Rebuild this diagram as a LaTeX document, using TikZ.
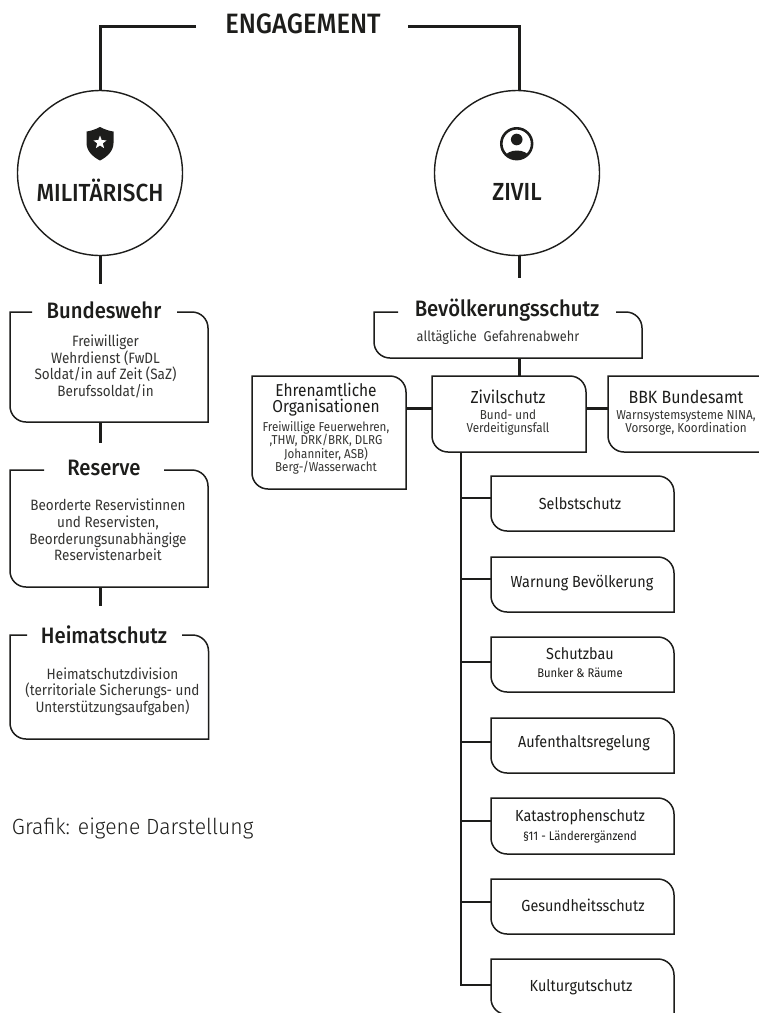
\documentclass[tikz,border=0pt]{standalone}
\usepackage{fontspec}
\usetikzlibrary{shapes.geometric}
\setmainfont{Fira Sans}[FakeStretch=0.9]
\newfontfamily\hdfont{Fira Sans Medium}[FakeStretch=0.91]
\newfontfamily\ltfont{Fira Sans Light}[FakeStretch=0.96]
\definecolor{ink}{HTML}{1D1D1B}
\newcommand{\fs}[1]{\fontsize{#1}{#1}\selectfont}
\tikzset{
  x=1pt,y=-1pt,
  every node/.style={text=ink,inner sep=0pt,outer sep=0pt,align=center},
  outline/.style={draw=ink,line width=1.5pt,line join=miter},
  link/.style={draw=ink,line width=3pt},
  thin link/.style={draw=ink,line width=1.4pt},
  disc/.style={circle,draw=ink,line width=1.4pt,minimum size=165pt},
  title big/.style={font=\hdfont\fs{28}},
  title mid/.style={font=\hdfont\fs{24.7}},
  title head/.style={font=\hdfont\fs{22.3}},
  body/.style={font=\fs{15},text=ink!90,execute at begin node=\setlength{\baselineskip}{16.6pt}},
  small/.style={font=\fs{13},text=ink!90,execute at begin node=\setlength{\baselineskip}{13pt}},
  small four/.style={font=\fs{12.9},text=ink!90,execute at begin node=\setlength{\baselineskip}{13.4pt}},
  org/.style={font=\fs{17.2},execute at begin node=\setlength{\baselineskip}{16pt}},
  entry/.style={font=\fs{16}},
  entry sub/.style={font=\fs{12.5}},
}
% name, x1, y1, x2, y2 : closed box, rounded top-right and bottom-left
\newcommand{\Bx}[5]{%
  \node[rectangle,minimum width={(#4-#2)*1pt},minimum height={(#5-#3)*1pt}] (#1) at ({(#2+#4)/2},{(#3+#5)/2}) {};
  \draw[outline] (#2,#3) -- ({#4-16},#3) arc[start angle=90,end angle=0,radius=16pt]
    -- (#4,#5) -- ({#2+16},#5) arc[start angle=270,end angle=180,radius=16pt] -- cycle;
}
% same, with a gap in the top edge between x=#6 and x=#7
\newcommand{\GBx}[7]{%
  \node[rectangle,minimum width={(#4-#2)*1pt},minimum height={(#5-#3)*1pt}] (#1) at ({(#2+#4)/2},{(#3+#5)/2}) {};
  \draw[outline] (#7,#3) -- ({#4-16},#3) arc[start angle=90,end angle=0,radius=16pt]
    -- (#4,#5) -- ({#2+16},#5) arc[start angle=270,end angle=180,radius=16pt] -- (#2,#3) -- (#6,#3);
}
\begin{document}
\begin{tikzpicture}
\useasboundingbox[clip] (0,0) rectangle (759,1013);
\fill[white] (0,0) rectangle (759,1013);

% top
\node[title big] (eng) at (303,24) {ENGAGEMENT};
\coordinate (engL) at (196,26);
\coordinate (engR) at (408,26);
\node[disc] (mil) at (100,173) {};
\node[disc] (ziv) at (517,173) {};
\coordinate (milT) at (100,90.5);
\coordinate (zivT) at (519,90.5);
\draw[link,line join=miter] (engL) -- (engL -| milT) -- (milT);
\draw[link,line join=miter] (engR) -- (engR -| zivT) -- (zivT);
\node[title mid] (milt) at (100,190) {MILITÄRISCH};
\node[title mid] (zivt) at (517,192) {ZIVIL};

% shield icon
\fill[ink] (100,127) .. controls (105,129.5) and (109,131) .. (113.5,131.5) -- (113.5,143)
  .. controls (113.5,151) and (107,157) .. (100,160.5)
  .. controls (93,157) and (86.5,151) .. (86.5,143) -- (86.5,131.5)
  .. controls (91,131) and (95,129.5) .. (100,127) -- cycle;
\node[star,star points=5,star point ratio=2.4,fill=white,minimum size=14pt] (milstar) at (100,142.5) {};
% person icon
\begin{scope}
  \clip (516.7,143.7) circle[radius=16pt];
  \fill[ink] (503,158) .. controls (508,148) and (526,148) .. (531,158) -- (531,165) -- (503,165) -- cycle;
\end{scope}
\draw[ink,line width=2.6pt] (516.7,143.7) circle[radius=15.4pt];
\fill[ink] (516.7,139.5) circle[radius=5.8pt];

% left column
\GBx{bw}{10}{312}{208}{422}{32}{177}
\GBx{rs}{10}{470}{208}{587}{44}{164}
\GBx{hs}{10}{635}{208.5}{739}{27}{182}
\node[title head] (bwt) at (104,310) {Bundeswehr};
\node[title head] (rst) at (104,468) {Reserve};
\node[title head] (hst) at (104,635) {Heimatschutz};
\node[body] (bwb) at (105.5,366.5) {Freiwilliger\\Wehrdienst (FwDL\\Soldat/in auf Zeit (SaZ)\\Berufssoldat/in};
\node[body] (rsb) at (108,530) {Beorderte Reservistinnen\\und Reservisten,\\Beorderungsunabhängige\\Reservistenarbeit};
\node[body] (hsb) at (112.5,691.5) {Heimatschutzdivision\\(territoriale Sicherungs- und\\Unterstützungsaufgaben)};
\coordinate (rsT) at (100,443);
\coordinate (hsT) at (100,606);
\coordinate (milB) at (100,284);
\draw[link] (mil.south) -- (milB);
\draw[link] (bw.south -| rsT) -- (rsT);
\draw[link] (rs.south -| hsT) -- (hsT);

\node[font=\ltfont\fs{22},anchor=west] (src) at (12,828) {Grafik: eigene Darstellung};

% right column
\GBx{bv}{374}{312}{642}{358}{398}{616}
\node[title head] (bvt) at (507,310) {Bevölkerungsschutz};
\node[small,font=\fs{14.2}] (bvb) at (498,337) {alltägliche\ \ Gefahrenabwehr};
\Bx{eo}{252}{376}{406}{489}
\Bx{zs}{432}{376}{586}{452}
\Bx{bb}{608}{376}{775}{452}
\node[org] (eot) at (326,399.5) {Ehrenamtliche\\Organisationen};
\node[small four] (eob) at (326,448) {Freiwillige Feuerwehren,\\,THW, DRK/BRK, DLRG\\Johanniter, ASB)\\Berg-/Wasserwacht};
\node[org,font=\fs{17.4}] (zst) at (508,397) {Zivilschutz};
\node[small] (zsb) at (508,422.5) {Bund- und\\Verdeitigunsfall};
\node[org,font=\fs{17.7}] (bbt) at (686,397) {BBK Bundesamt};
\node[small] (bbb) at (686,422.5) {Warnsystemsysteme NINA,\\Vorsorge, Koordination};

\coordinate (zivB) at (519,278);
\coordinate (zsTop) at (519,376);
\draw[link] (ziv.south -| zivB) -- (zivB);
\draw[link] (bv.south -| zsTop) -- (zsTop);
\coordinate (eoR) at (406,408);
\coordinate (bbL) at (608,408);
\draw[link] (eoR) -- (eoR -| zs.west);
\draw[link] (zs.east |- bbL) -- (bbL);

% tree
\Bx{a}{491}{476}{674}{531}
\Bx{b}{491}{557}{674}{612}
\Bx{c}{491}{637}{674}{692}
\Bx{d}{491}{718}{674}{773}
\Bx{e}{491}{798}{674}{854}
\Bx{f}{491}{879}{674}{934}
\Bx{g}{491}{959}{674}{1014.5}
\coordinate (trunk) at (461,985);
\coordinate (pa) at (491,498);
\coordinate (pb) at (491,579);
\coordinate (pc) at (491,662);
\coordinate (pd) at (491,742);
\coordinate (pe) at (491,821);
\coordinate (pf) at (491,902);
\coordinate (pg) at (491,985);
\draw[thin link,line join=miter] (zs.south -| trunk) -- (trunk) -- (pg);
\foreach \p in {pa,pb,pc,pd,pe,pf} \draw[thin link] (\p -| trunk) -- (\p);

\node[entry] (at) at (580,504) {Selbstschutz};
\node[entry] (bt) at (582,583) {Warnung Bevölkerung};
\node[entry] (ct) at (580,654) {Schutzbau};
\node[entry sub] (cs) at (580,673) {Bunker \& Räume};
\node[entry] (dt) at (584,743) {Aufenthaltsregelung};
\node[entry] (et) at (580,817) {Katastrophenschutz};
\node[entry sub] (es) at (580,837) {§11 - Ländererg\"anzend};
\node[entry] (ft) at (583,905) {Gesundheitsschutz};
\node[entry] (gt) at (581,987) {Kulturgutschutz};
\end{tikzpicture}
\end{document}
